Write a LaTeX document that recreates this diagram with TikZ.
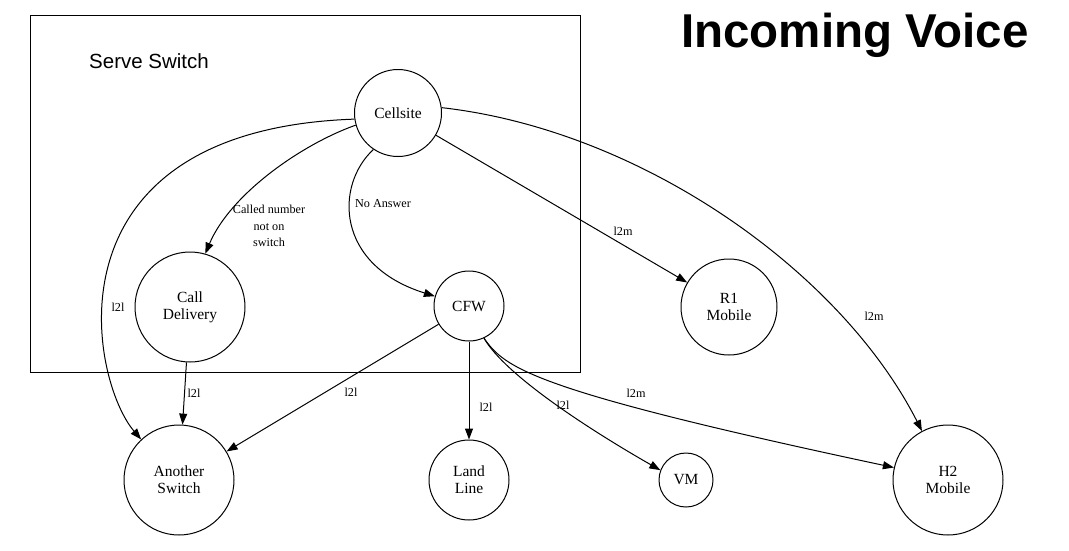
\documentclass[tikz,border=0pt]{standalone}
\usepackage{fontspec}
\setmainfont{Liberation Serif}
\newfontfamily\sansfont{Liberation Sans}
\usetikzlibrary{arrows.meta}
\tikzset{
  st/.style={circle, draw, line width=1pt, inner sep=0pt, align=center, font=\fontsize{15.5}{17}\selectfont},
  edge/.style={line width=1pt, -{Triangle[length=11pt,width=8pt]}},
  elab/.style={font=\fontsize{12.2}{16.5}\selectfont, align=center, inner sep=0pt},
}
\begin{document}
\begin{tikzpicture}[x=1pt,y=-1pt]
\useasboundingbox (0,0) rectangle (1069,550);
% cluster
\draw[line width=1pt] (30,15) rectangle (580,372);
\node[font=\sansfont\fontsize{20.5}{24}\selectfont] (sslabel) at (149,61) {Serve Switch};
\node[font=\sansfont\bfseries\fontsize{47.5}{50}\selectfont] (title) at (855,35) {Incoming Voice};
% nodes
\node[st, minimum size=87pt] (cell) at (398,113) {Cellsite};
\node[st, minimum size=110pt] (cd) at (190,307) {Call\\Delivery};
\node[st, minimum size=70pt] (cfw) at (469,306) {CFW};
\node[st, minimum size=96pt] (r1) at (729,307) {R1\\Mobile};
\node[st, minimum size=110pt] (as) at (179,480) {Another\\Switch};
\node[st, minimum size=80pt] (ll) at (469,480) {Land\\Line};
\node[st, minimum size=54pt] (vm) at (686,480) {VM};
\node[st, minimum size=110pt] (h2) at (948,480) {H2\\Mobile};
% edges
\draw[edge] (cell.188) .. controls (40,130) and (90,380) .. (as.133);
\draw[edge] (cell.196) .. controls (300,145) and (230,195) .. (cd.74);
\draw[edge] (cell.236) .. controls (335,185) and (335,265) .. (cfw.164);
\draw[edge] (cell) -- (r1);
\draw[edge] (cell.7) .. controls (640,130) and (840,270) .. (h2.118);
\draw[edge] (cd) -- (as);
\draw[edge] (cfw) -- (as);
\draw[edge] (cfw) -- (ll);
\draw[edge] (cfw.-65) .. controls (505,375) and (590,430) .. (vm.159);
\draw[edge] (cfw.-65) .. controls (505,368) and (530,390) .. (h2.167);
% labels
\node[elab] (l1) at (269,226) {Called number\\not on\\switch};
\node[elab] (l2) at (383,204) {No Answer};
\node[elab] (l3) at (623,231) {l2m};
\node[elab] (l4) at (874,316) {l2m};
\node[elab] (l5) at (118,307) {l2l};
\node[elab] (l6) at (194,393) {l2l};
\node[elab] (l7) at (351,392) {l2l};
\node[elab] (l8) at (486,407) {l2l};
\node[elab] (l9) at (563,405) {l2l};
\node[elab] (l10) at (636,393) {l2m};
\end{tikzpicture}
\end{document}
